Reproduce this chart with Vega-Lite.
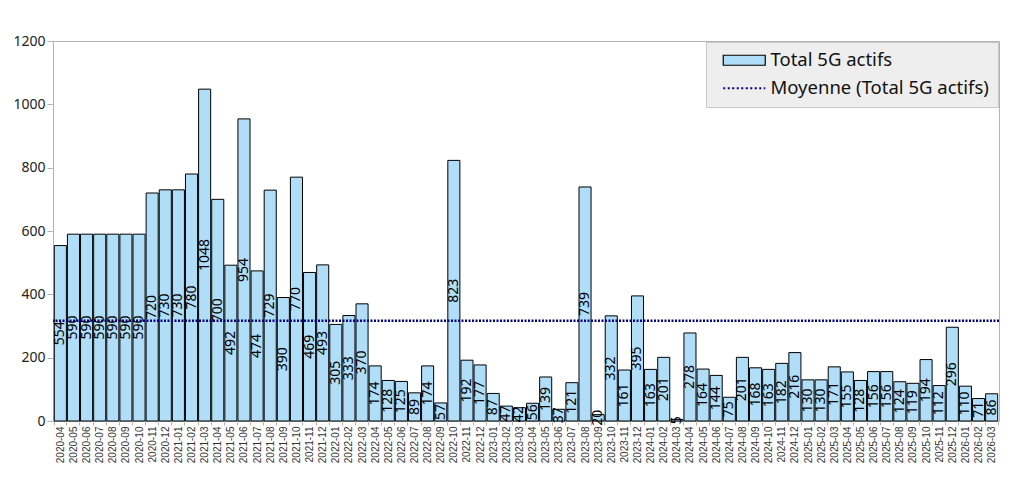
{
  "$schema": "https://vega.github.io/schema/vega-lite/v6.json",
  "width": 946,
  "height": 380,
  "autosize": "none",
  "padding": {"left": 53, "top": 41, "right": 32, "bottom": 64},
  "background": "white",
  "data": {"values": [
    {"mois": "2020-04", "total": 554}, {"mois": "2020-05", "total": 590}, {"mois": "2020-06", "total": 590},
    {"mois": "2020-07", "total": 590}, {"mois": "2020-08", "total": 590}, {"mois": "2020-09", "total": 590},
    {"mois": "2020-10", "total": 590}, {"mois": "2020-11", "total": 720}, {"mois": "2020-12", "total": 730},
    {"mois": "2021-01", "total": 730}, {"mois": "2021-02", "total": 780}, {"mois": "2021-03", "total": 1048},
    {"mois": "2021-04", "total": 700}, {"mois": "2021-05", "total": 492}, {"mois": "2021-06", "total": 954},
    {"mois": "2021-07", "total": 474}, {"mois": "2021-08", "total": 729}, {"mois": "2021-09", "total": 390},
    {"mois": "2021-10", "total": 770}, {"mois": "2021-11", "total": 469}, {"mois": "2021-12", "total": 493},
    {"mois": "2022-01", "total": 305}, {"mois": "2022-02", "total": 333}, {"mois": "2022-03", "total": 370},
    {"mois": "2022-04", "total": 174}, {"mois": "2022-05", "total": 128}, {"mois": "2022-06", "total": 125},
    {"mois": "2022-07", "total": 89}, {"mois": "2022-08", "total": 174}, {"mois": "2022-09", "total": 57},
    {"mois": "2022-10", "total": 823}, {"mois": "2022-11", "total": 192}, {"mois": "2022-12", "total": 177},
    {"mois": "2023-01", "total": 87}, {"mois": "2023-02", "total": 47}, {"mois": "2023-03", "total": 42},
    {"mois": "2023-04", "total": 56}, {"mois": "2023-05", "total": 139}, {"mois": "2023-06", "total": 37},
    {"mois": "2023-07", "total": 121}, {"mois": "2023-08", "total": 739}, {"mois": "2023-09", "total": 20},
    {"mois": "2023-10", "total": 332}, {"mois": "2023-11", "total": 161}, {"mois": "2023-12", "total": 395},
    {"mois": "2024-01", "total": 163}, {"mois": "2024-02", "total": 201}, {"mois": "2024-03", "total": 5},
    {"mois": "2024-04", "total": 278}, {"mois": "2024-05", "total": 164}, {"mois": "2024-06", "total": 144},
    {"mois": "2024-07", "total": 75}, {"mois": "2024-08", "total": 201}, {"mois": "2024-09", "total": 168},
    {"mois": "2024-10", "total": 163}, {"mois": "2024-11", "total": 182}, {"mois": "2024-12", "total": 216},
    {"mois": "2025-01", "total": 130}, {"mois": "2025-02", "total": 130}, {"mois": "2025-03", "total": 171},
    {"mois": "2025-04", "total": 155}, {"mois": "2025-05", "total": 128}, {"mois": "2025-06", "total": 156},
    {"mois": "2025-07", "total": 156}, {"mois": "2025-08", "total": 124}, {"mois": "2025-09", "total": 119},
    {"mois": "2025-10", "total": 194}, {"mois": "2025-11", "total": 112}, {"mois": "2025-12", "total": 296},
    {"mois": "2026-01", "total": 110}, {"mois": "2026-02", "total": 71}, {"mois": "2026-03", "total": 86}
  ]},
  "encoding": {
    "x": {"field": "mois", "type": "ordinal", "title": null,
          "scale": {"paddingInner": 0.08, "paddingOuter": 0.1},
          "axis": {"labelAngle": -90, "labelFont": "Liberation Sans", "labelFontSize": 10, "labelColor": "#333333",
                   "tickBand": "extent", "tickSize": 4, "tickColor": "#b3b3b3", "domainColor": "#b3b3b3",
                   "labelPadding": 1}}
  },
  "layer": [
    {
      "layer": [
        {
          "mark": {"type": "bar", "fill": "#b0ddf7", "strokeWidth": 1},
          "encoding": {
            "y": {"field": "total", "type": "quantitative", "title": null,
                  "scale": {"domain": [0, 1200]},
                  "axis": {"values": [0, 200, 400, 600, 800, 1000, 1200], "format": "d", "labelFont": "Noto Sans", "labelFontSize": 14,
                           "labelColor": "#222222", "gridColor": "#b3b3b3", "tickColor": "#b3b3b3", "domainColor": "#b3b3b3",
                           "tickSize": 6, "labelPadding": 2}},
            "stroke": {"datum": "Total 5G actifs", "type": "nominal"}
          }
        },
        {
          "mark": {"type": "rule", "strokeWidth": 2.5, "strokeDash": [2, 1.5]},
          "encoding": {
            "x": null,
            "y": {"aggregate": "mean", "field": "total", "type": "quantitative"},
            "stroke": {"datum": "Moyenne (Total 5G actifs)", "type": "nominal"}
          }
        }
      ],
      "encoding": {
        "stroke": {"type": "nominal",
                  "scale": {"domain": ["Total 5G actifs", "Moyenne (Total 5G actifs)"], "range": ["#000000", "#000080"]},
                  "legend": {"title": null, "orient": "top-right", "offset": 1, "padding": 9,
                             "fillColor": "#eeeeee", "strokeColor": "#c8c8c8",
                             "labelFont": "Noto Sans", "labelFontSize": 18.5, "labelColor": "#111111", "labelLimit": 400,
                             "labelOffset": 37, "rowPadding": 9, "symbolSize": 100,
                             "encode": {"symbols": {"update": {
                               "shape": {"signal": "datum.value === 'Total 5G actifs' ? 'M-0.2,-1H8.2V1H-0.2Z' : 'M-0.2,0H8.2'"},
                               "fill": {"signal": "datum.value === 'Total 5G actifs' ? '#b0ddf7' : 'transparent'"},
                               "strokeWidth": {"signal": "datum.value === 'Total 5G actifs' ? 1.2 : 2"},
                               "strokeDash": {"signal": "datum.value === 'Total 5G actifs' ? [200, 0] : [2, 2.5]"},
                               "strokeOpacity": {"value": 1},
                               "fillOpacity": {"value": 1},
                               "opacity": {"value": 1}
                             }}}}}
      }
    },
    {
      "mark": {"type": "text", "angle": 270, "align": "center", "baseline": "middle", "font": "Noto Sans", "fontSize": 14, "color": "black"},
      "encoding": {
        "y": {"field": "total", "type": "quantitative", "scale": {"domain": [0, 2400]}, "axis": null},
        "text": {"field": "total", "type": "quantitative"}
      }
    }
  ],
  "resolve": {"scale": {"y": "independent"}},
  "config": {
    "view": {"stroke": "#b3b3b3"},
    "axis": {"grid": false}
  }
}
